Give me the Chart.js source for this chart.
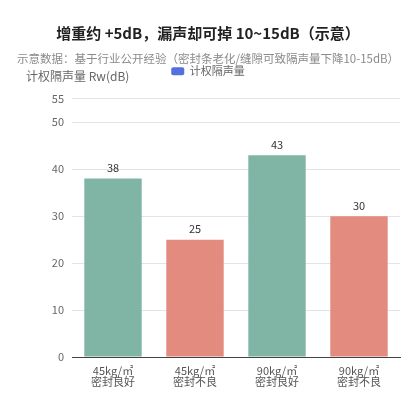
<!DOCTYPE html>
<html>
<head>
<meta charset="utf-8">
<script src="https://cdn.jsdelivr.net/npm/chart.js@4"></script>
<style>
  html, body { margin: 0; padding: 0; background: #fff; }
  #wrap { width: 411px; height: 420px; }
</style>
</head>
<body>
<div id="wrap"><canvas id="canvas"></canvas></div>
<script>
var categories = [
	['45kg/㎡', '密封良好'],
	['45kg/㎡', '密封不良'],
	['90kg/㎡', '密封良好'],
	['90kg/㎡', '密封不良']
];
var rwValues = [38, 25, 43, 30];
var barColors = ['#80b5a5', '#e28b7e', '#80b5a5', '#e28b7e'];
var yMax = 55;

var FONT = "'Noto Sans CJK SC', 'Noto Sans', sans-serif";

// values over bars + horizontal axis name
var extras = {
	id: 'extras',
	beforeUpdate: function(chart) {
		// leave some room under the legend for the axis name
		var legend = chart.legend;
		if (legend && !legend._patched) {
			var fit = legend.fit;
			legend.fit = function() {
				fit.call(this);
				this.height += 12;
			};
			legend._patched = true;
		}
	},
	afterDatasetsDraw: function(chart) {
		var ctx = chart.ctx;
		var meta = chart.getDatasetMeta(0);
		ctx.save();
		ctx.font = '11px ' + FONT;
		ctx.fillStyle = '#333';
		ctx.textAlign = 'center';
		ctx.textBaseline = 'bottom';
		meta.data.forEach(function(bar, i) {
			ctx.fillText(rwValues[i], bar.x, bar.y - 5);
		});
		ctx.font = '12px ' + FONT;
		ctx.fillStyle = '#666';
		ctx.textAlign = 'left';
		ctx.textBaseline = 'middle';
		ctx.fillText('计权隔声量 Rw(dB)', chart.chartArea.left - 46, chart.chartArea.top - 22);
		ctx.restore();
	}
};

var ctx = document.getElementById('canvas').getContext('2d');

var chart = new Chart(ctx, {
	type: 'bar',
	data: {
		labels: categories,
		datasets: [{
			label: '计权隔声量',
			data: rwValues,
			backgroundColor: barColors,
			categoryPercentage: 0.7,
			barPercentage: 1
		}]
	},
	options: {
		responsive: true,
		maintainAspectRatio: false,
		animation: false,
		layout: { padding: { left: 16, right: 11, bottom: 25, top: 24 } },
		plugins: {
			title: {
				display: true,
				text: '增重约 +5dB，漏声却可掉 10~15dB（示意）',
				color: '#222',
				font: { family: FONT, size: 15, weight: 'bold' },
				padding: { top: 0, bottom: 8 }
			},
			subtitle: {
				display: true,
				text: '示意数据：基于行业公开经验（密封条老化/缝隙可致隔声量下降10-15dB）',
				color: '#8a8a8a',
				font: { family: FONT, size: 11.5 },
				padding: { top: 2, bottom: -10 }
			},
			legend: {
				display: true,
				labels: {
					color: '#666',
					font: { family: FONT, size: 11 },
					boxWidth: 13,
					boxHeight: 8,
					padding: 10,
					generateLabels: function() {
						return [{ text: '计权隔声量', fillStyle: '#5470dc', strokeStyle: '#5470dc', lineWidth: 0, fontColor: '#666', borderRadius: 2 }];
					}
				}
			},
			tooltip: { enabled: false }
		},
		scales: {
			x: {
				grid: { display: false, drawTicks: false },
				border: { display: true, color: '#444' },
				ticks: { color: '#555', font: { family: FONT, size: 11, lineHeight: 1 }, padding: 8, maxRotation: 0 }
			},
			y: {
				min: 0,
				max: yMax,
				afterFit: function(scale) { scale.width = 56; },
				ticks: { stepSize: 10, color: '#666', font: { family: FONT, size: 11 }, padding: 8 },
				grid: { color: '#e0e3ea', drawTicks: false },
				border: { display: false }
			}
		}
	},
	plugins: [extras]
});
</script>
</body>
</html>
